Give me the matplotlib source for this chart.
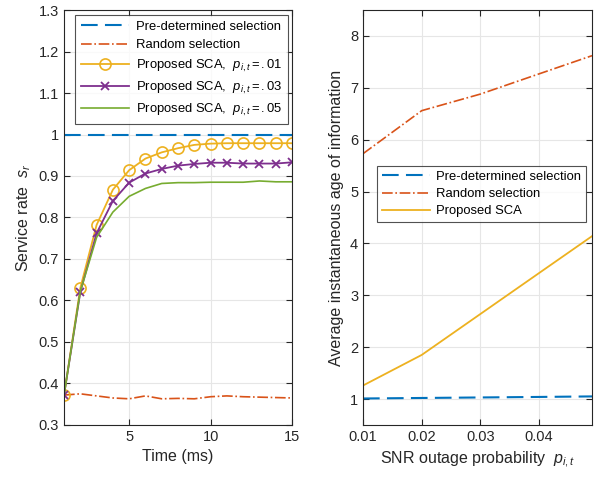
import numpy as np
import matplotlib
matplotlib.use("Agg")
import matplotlib.pyplot as plt

# left panel: service rate vs time
time_ms = np.arange(1, 16)
predet_rate = [1.0] * 15
random_rate = [0.372, 0.375, 0.370, 0.365, 0.363, 0.370, 0.363, 0.364, 0.363, 0.368, 0.370, 0.368, 0.367, 0.366, 0.365]
sca_rate_01 = [0.372, 0.630, 0.782, 0.867, 0.914, 0.942, 0.957, 0.967, 0.975, 0.978, 0.979, 0.979, 0.979, 0.979, 0.979]
sca_rate_03 = [0.372, 0.620, 0.762, 0.840, 0.884, 0.906, 0.917, 0.925, 0.929, 0.932, 0.932, 0.930, 0.930, 0.930, 0.933]
sca_rate_05 = [0.372, 0.622, 0.752, 0.813, 0.851, 0.870, 0.882, 0.884, 0.884, 0.885, 0.885, 0.885, 0.888, 0.886, 0.886]

# right panel: AoI vs outage probability
outage_p = [0.01, 0.02, 0.03, 0.04, 0.049]
predet_aoi = [1.01, 1.02, 1.03, 1.04, 1.05]
random_aoi = [5.73, 6.56, 6.88, 7.27, 7.62]
sca_aoi = [1.26, 1.85, 2.64, 3.43, 4.14]

c_blue = "#0072BD"
c_orange = "#D95319"
c_yellow = "#EDB120"
c_purple = "#7E2F8E"
c_green = "#77AC30"
c_text = "#262626"

plt.rcParams["font.family"] = ["Liberation Sans", "DejaVu Sans"]
plt.rcParams["font.size"] = 10
plt.rcParams["mathtext.fontset"] = "custom"
plt.rcParams["mathtext.it"] = "Liberation Sans:italic"
plt.rcParams["mathtext.rm"] = "Liberation Sans"

fig = plt.figure(figsize=(6, 4.78), dpi=100)
ax1 = fig.add_axes([0.1067, 0.111, 0.38, 0.868])
ax2 = fig.add_axes([0.605, 0.111, 0.3817, 0.868])


def style(ax):
    ax.grid(True, color="#e6e6e6", linewidth=0.8)
    ax.set_axisbelow(True)
    for s in ax.spines.values():
        s.set_color(c_text)
        s.set_linewidth(0.8)
    ax.tick_params(direction="in", top=True, right=True, colors=c_text, labelsize=10.5, length=4)


# left
ax1.plot(time_ms, predet_rate, "--", color=c_blue, lw=1.5, dashes=(8, 3.5), label="Pre-determined selection")
ax1.plot(time_ms, random_rate, "-.", color=c_orange, lw=1.2, label="Random selection")
ax1.plot(time_ms, sca_rate_01, "-o", color=c_yellow, lw=1.3, ms=8, mfc="none", mew=1.2,
         label=r"Proposed SCA,  $p_{i,t}=.01$")
ax1.plot(time_ms, sca_rate_03, "-x", color=c_purple, lw=1.3, ms=6, mew=1.3,
         label=r"Proposed SCA,  $p_{i,t}=.03$")
ax1.plot(time_ms, sca_rate_05, "-", color=c_green, lw=1.2, label=r"Proposed SCA,  $p_{i,t}=.05$")
ax1.set_xlim(1, 15)
ax1.set_ylim(0.3, 1.3)
ax1.set_xticks([5, 10, 15])
yt = np.round(np.arange(0.3, 1.31, 0.1), 1)
ax1.set_yticks(yt)
ax1.set_yticklabels(["1" if v == 1 else f"{v:g}" for v in yt])
ax1.set_xlabel("Time (ms)", fontsize=11.5, color=c_text)
ax1.set_ylabel(r"Service rate  $s_r$", fontsize=11.5, color=c_text)
style(ax1)
leg = ax1.legend(loc="upper left", bbox_to_anchor=(0.048, 0.988), borderaxespad=0, fontsize=9.4,
                 frameon=True, fancybox=False, edgecolor=c_text, handlelength=3.7, borderpad=0.45,
                 labelspacing=0.47, handletextpad=0.5)
leg.get_frame().set_linewidth(0.8)

# right
ax2.plot(outage_p, predet_aoi, "--", color=c_blue, lw=1.5, dashes=(8, 3.5), label="Pre-determined selection")
ax2.plot(outage_p, random_aoi, "-.", color=c_orange, lw=1.2, label="Random selection")
ax2.plot(outage_p, sca_aoi, "-", color=c_yellow, lw=1.3, label="Proposed SCA")
ax2.set_xlim(0.01, 0.049)
ax2.set_ylim(0.5, 8.5)
ax2.set_xticks([0.01, 0.02, 0.03, 0.04])
ax2.set_xticklabels(["0.01", "0.02", "0.03", "0.04"])
ax2.set_yticks(range(1, 9))
ax2.set_xlabel(r"SNR outage probability  $p_{i,t}$", fontsize=11.5, color=c_text)
ax2.set_ylabel("Average instantaneous age of information", fontsize=11.5, color=c_text)
style(ax2)
leg2 = ax2.legend(loc="upper left", bbox_to_anchor=(0.061, 0.624), borderaxespad=0, fontsize=9.4,
                  frameon=True, fancybox=False, edgecolor=c_text, handlelength=3.7, borderpad=0.35,
                  labelspacing=0.4, handletextpad=0.5)
leg2.get_frame().set_linewidth(0.8)

fig.savefig("out.png", dpi=100)
